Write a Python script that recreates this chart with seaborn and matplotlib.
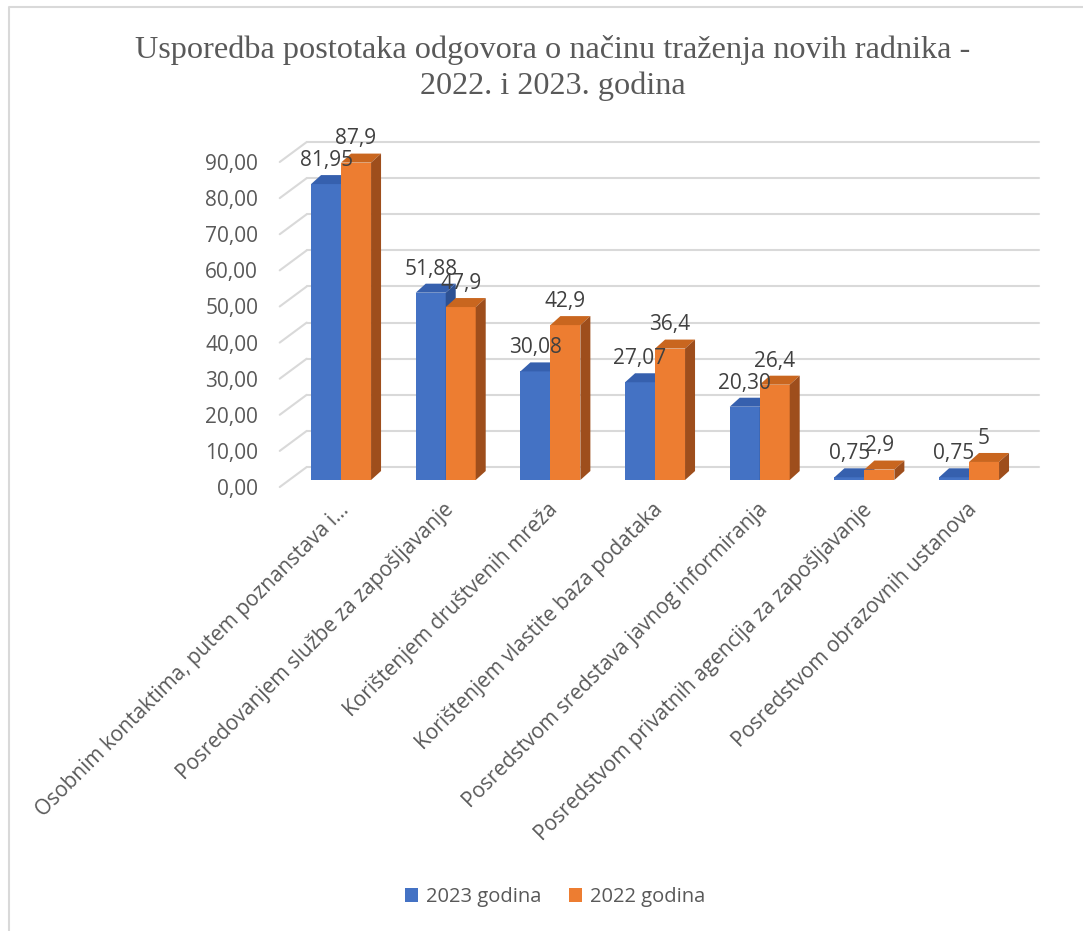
import matplotlib
matplotlib.use("Agg")
import matplotlib.pyplot as plt
import matplotlib.transforms as mtransforms
from matplotlib.patches import Polygon
from matplotlib.lines import Line2D
import pandas as pd
import seaborn as sns

# Data
categories = ["Osobnim kontaktima, putem poznanstava i...",
              "Posredovanjem službe za zapošljavanje",
              "Korištenjem društvenih mreža",
              "Korištenjem vlastite baza podataka",
              "Posredstvom sredstava javnog informiranja",
              "Posredstvom privatnih agencija za zapošljavanje",
              "Posredstvom obrazovnih ustanova"]
vals_2023 = [81.95, 51.88, 30.08, 27.07, 20.30, 0.75, 0.75]
vals_2022 = [87.9, 47.9, 42.9, 36.4, 26.4, 2.9, 5]
series = ["2023 godina", "2022 godina"]
yticks = [0, 10, 20, 30, 40, 50, 60, 70, 80, 90]

labels_2023 = [f"{v:.2f}".replace(".", ",") for v in vals_2023]
labels_2022 = [f"{v:g}".replace(".", ",") for v in vals_2022]

front_colors = {"2023 godina": "#4472C4", "2022 godina": "#ED7D31"}
top_colors = ["#3660AE", "#C9661F"]
side_colors = ["#2D5193", "#9E4E1C"]
grid_col = "#D9D9D9"
txt_col = "#595959"

df = pd.DataFrame({
    "Nacin": categories * 2,
    "Postotak": vals_2023 + vals_2022,
    "Godina": [series[0]] * len(categories) + [series[1]] * len(categories),
})

sns.set_theme(style="white")
plt.rcParams["font.family"] = ["Open Sans", "DejaVu Sans"]

fig = plt.figure(figsize=(10.83, 9.31), dpi=100)
ax = fig.add_axes([0.2666, 0.4844, 0.6765, 0.3491])
sns.barplot(data=df, x="Nacin", y="Postotak", hue="Godina", palette=front_colors,
            width=0.573, saturation=1, linewidth=0, edgecolor="none", ax=ax)
ax.set_xlim(-0.5, 6.5)
ax.set_ylim(0, 90)
ax.set_xlabel("")
ax.set_ylabel("")
sns.despine(ax=ax, left=True, bottom=True)


def px(dx, dy):
    # pixel offset -> data units
    x0, y0 = ax.transData.transform((0, 0))
    x1, y1 = ax.transData.transform((1, 1))
    return dx / (x1 - x0), dy / (y1 - y0)


bdx, bdy = px(10, 9)      # bar depth
wdx, wdy = px(18, 13)     # back wall
fdx, fdy = px(-9, -7)     # front floor edge
xl = ax.get_xlim()

# back wall gridlines + diagonal floor ticks
for v in yticks:
    ax.plot([xl[0] + wdx, xl[1] + wdx], [v + wdy, v + wdy], color=grid_col,
            lw=1.5, zorder=0.5, clip_on=False)
    ax.plot([xl[0] + fdx, xl[0] + wdx], [v + fdy, v + wdy], color=grid_col,
            lw=1.5, zorder=0.5, clip_on=False)

# fake 3D faces
all_labels = [labels_2023, labels_2022]
for i, cont in enumerate(ax.containers):
    for j, bar in enumerate(cont):
        z = 2 + i
        bar.set_zorder(z)
        x, w, h = bar.get_x(), bar.get_width(), bar.get_height()
        top = Polygon([(x, h), (x + w, h), (x + w + bdx, h + bdy), (x + bdx, h + bdy)],
                      closed=True, facecolor=top_colors[i], edgecolor="none",
                      zorder=z + 0.1, clip_on=False)
        side = Polygon([(x + w, 0), (x + w, h), (x + w + bdx, h + bdy), (x + w + bdx, bdy)],
                       closed=True, facecolor=side_colors[i], edgecolor="none",
                       zorder=z + 0.1, clip_on=False)
        ax.add_patch(top)
        ax.add_patch(side)
        ax.annotate(all_labels[i][j], (x + w / 2, h), xytext=(0, 17),
                    textcoords="offset points", ha="center", va="center",
                    fontsize=15, color="#404040", zorder=10, annotation_clip=False)

# ticks
ax.set_yticks(yticks)
ax.set_yticklabels([f"{t:.2f}".replace(".", ",") for t in yticks])
ax.tick_params(axis="y", length=0, pad=22, labelsize=15, labelcolor=txt_col)
shift_y = mtransforms.ScaledTranslation(0, -7 / 100, fig.dpi_scale_trans)
for lab in ax.get_yticklabels():
    lab.set_transform(lab.get_transform() + shift_y)

ax.set_xticks(range(len(categories)))
ax.set_xticklabels(categories, rotation=45, ha="right", rotation_mode="anchor")
ax.tick_params(axis="x", length=0, pad=14, labelsize=15, labelcolor=txt_col)
shift_x = mtransforms.ScaledTranslation(-3 / 100, 0, fig.dpi_scale_trans)
for lab in ax.get_xticklabels():
    lab.set_transform(lab.get_transform() + shift_x)

# legend
leg = ax.get_legend()
handles = leg.legend_handles
names = [t.get_text() for t in leg.get_texts()]
leg.remove()
fig.legend(handles, names, loc="center", bbox_to_anchor=(555 / 1083, 1 - 897 / 931),
           ncol=2, frameon=False, fontsize=14.5, handlelength=0.65, handleheight=0.65,
           handletextpad=0.4, columnspacing=1.35, labelcolor=txt_col)

# title
fig.text(553 / 1083, 1 - 68 / 931,
         "Usporedba postotaka odgovora o načinu traženja novih radnika -\n2022. i 2023. godina",
         ha="center", va="center", family=["Liberation Serif", "DejaVu Serif"],
         fontsize=23.2, color=txt_col, linespacing=1.33)

# chart border (left and top edge visible)
fig.add_artist(Line2D([9 / 1083, 9 / 1083, 1], [0, 1 - 7 / 931, 1 - 7 / 931],
                      transform=fig.transFigure, color=grid_col, lw=1.5))

fig.savefig("out.png", dpi=100, facecolor="white")
